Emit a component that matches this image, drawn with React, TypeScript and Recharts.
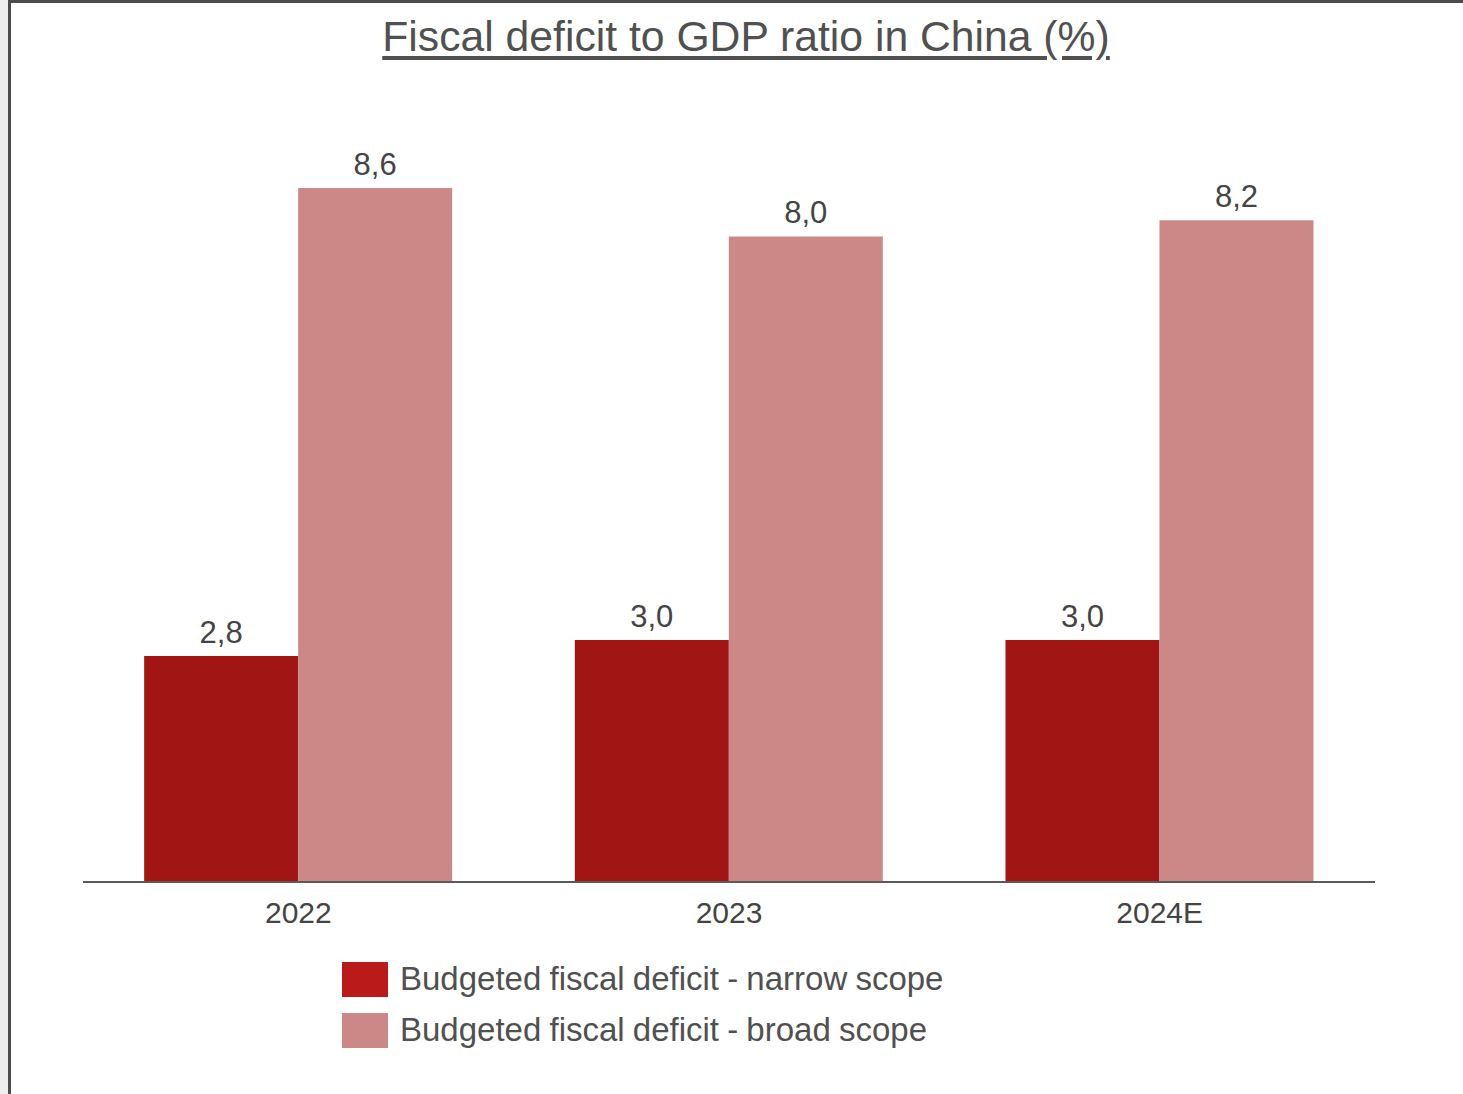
import React from "react";
import { BarChart, Bar, XAxis, YAxis, LabelList } from "recharts";

const years = ["2022", "2023", "2024E"];
const narrowScope = [2.8, 3.0, 3.0];
const broadScope = [8.6, 8.0, 8.2];
const seriesNames = [
  "Budgeted fiscal deficit - narrow scope",
  "Budgeted fiscal deficit - broad scope",
];
const barColors = ["#a21515", "#cc8886"];
const legendColors = ["#ba1a1a", "#cc8886"];

const data = years.map((year, i) => ({
  year,
  narrow: narrowScope[i],
  broad: broadScope[i],
}));

const FONT = "'Liberation Sans', Arial, sans-serif";
const fmt = (v: number) => v.toFixed(1).replace(".", ",");

export default function App() {
  return (
    <div
      style={{
        position: "absolute",
        left: 0,
        top: 0,
        width: 1463,
        height: 1094,
        background: "#eeeeee",
        overflow: "hidden",
        fontFamily: FONT,
      }}
    >
      <div
        style={{
          position: "absolute",
          left: 8,
          top: 0,
          width: 1470,
          height: 1100,
          background: "#ffffff",
          borderLeft: "3px solid #4d4d4d",
          borderTop: "3px solid #4d4d4d",
        }}
      />
      <div
        style={{
          position: "absolute",
          left: 0,
          top: 12,
          width: 1492,
          textAlign: "center",
          fontSize: 42.7,
          color: "#505050",
          textDecoration: "underline",
          textUnderlineOffset: 5,
        }}
      >
        Fiscal deficit to GDP ratio in China (%)
      </div>
      <div style={{ position: "absolute", left: 0, top: 0 }}>
        <BarChart
          width={1463}
          height={1094}
          data={data}
          margin={{ top: 75, right: 88, bottom: 152, left: 83 }}
          barCategoryGap="14.2%"
          barGap={0}
        >
          <XAxis
            dataKey="year"
            height={60}
            tickLine={false}
            tickSize={0}
            tickMargin={20}
            axisLine={{ stroke: "#5a5a5a", strokeWidth: 2 }}
            tick={{ fill: "#444444", fontSize: 30, fontFamily: FONT }}
          />
          <YAxis hide domain={[0, 10]} />
          <Bar dataKey="narrow" fill={barColors[0]} isAnimationActive={false}>
            <LabelList
              dataKey="narrow"
              position="top"
              offset={13}
              formatter={(v: any) => fmt(Number(v))}
              style={{ fill: "#444444", fontSize: 31, fontFamily: FONT }}
            />
          </Bar>
          <Bar dataKey="broad" fill={barColors[1]} isAnimationActive={false}>
            <LabelList
              dataKey="broad"
              position="top"
              offset={13}
              formatter={(v: any) => fmt(Number(v))}
              style={{ fill: "#444444", fontSize: 31, fontFamily: FONT }}
            />
          </Bar>
        </BarChart>
      </div>
      {seriesNames.map((name, i) => (
        <div
          key={name}
          style={{
            position: "absolute",
            left: 342,
            top: 961 + i * 51,
            height: 36,
            display: "flex",
            alignItems: "center",
            color: "#505050",
            fontSize: 33,
            whiteSpace: "nowrap",
          }}
        >
          <span
            style={{
              display: "inline-block",
              width: 46,
              height: 35,
              background: legendColors[i],
              marginRight: 12,
            }}
          />
          <span style={{ wordSpacing: -1 }}>{name}</span>
        </div>
      ))}
    </div>
  );
}
